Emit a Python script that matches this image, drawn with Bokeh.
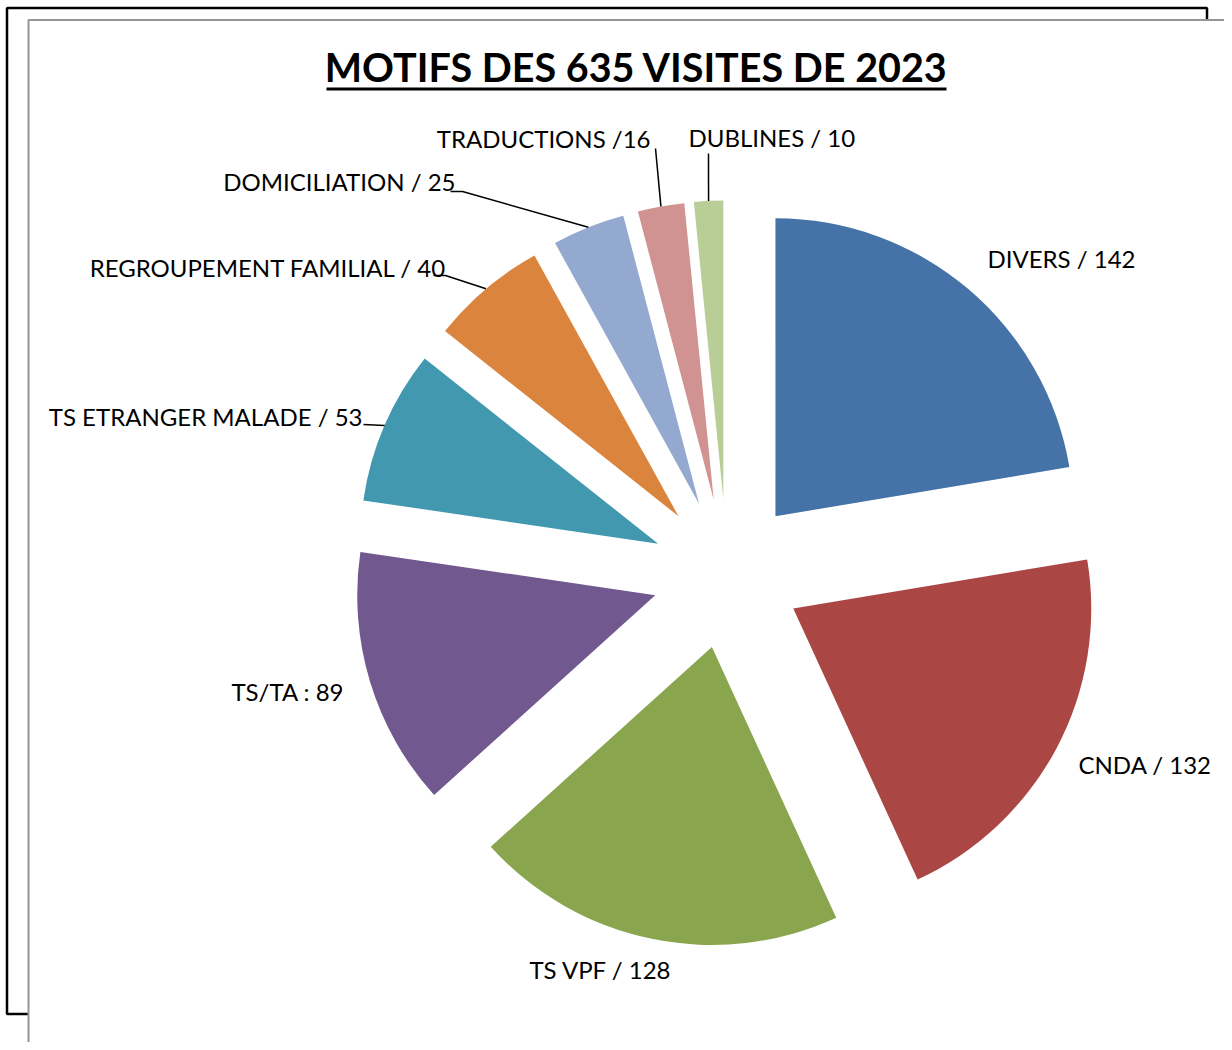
import numpy as np
from bokeh.plotting import figure
from bokeh.models import ColumnDataSource, Range1d
from bokeh.core.properties import value
from bokeh.embed import file_html
from bokeh.resources import INLINE

# ---------------- data ----------------
title = "MOTIFS DES 635 VISITES DE 2023"
categories = ["DIVERS", "CNDA", "TS VPF", "TS/TA", "TS ETRANGER MALADE",
              "REGROUPEMENT FAMILIAL", "DOMICILIATION", "TRADUCTIONS", "DUBLINES"]
visits = [142, 132, 128, 89, 53, 40, 25, 16, 10]
separators = [" / ", " / ", " / ", " : ", " / ", " / ", " / ", " /", " / "]
colors = ["#4572A7", "#AA4643", "#89A54E", "#71588F", "#4198AF",
          "#DB843D", "#93A9CF", "#D19392", "#B9CD96"]

# ---------------- layout (pixels) ----------------
W, H = 1224, 1042
OX, OY = 0, 1042          # image -> data conversion: x = sx - OX, y = OY - sy


def px(sx, sy):
    return sx - OX, OY - sy


CX, CY = px(726.5, 573)
R = 298
EXPLODE = 75
FONT = "Lato"
LABEL_PX = 24
TITLE_PX = 39.5
BASE_FIX = 0.4            # baseline correction (fraction of font size)

# label anchors (image px): align, x, baseline
label_layout = [
    ("left", 987, 268),
    ("left", 1078, 774),
    ("left", 529, 979),
    ("left", 231, 701),
    ("right", 362, 426),
    ("right", 446, 277),
    ("right", 455, 191),
    ("right", 650, 148),
    ("left", 688, 147),
]
# leader line start points (image px) for the labels that have one
leader_layout = {
    4: [(363, 424)],
    5: [(433, 275), (445, 275)],
    6: [(450, 191), (462, 191)],
    7: [(655, 148)],
    8: [(708, 153)],
}

# ---------------- geometry from data ----------------
vals = np.array(visits, dtype=float)
total = vals.sum()
cum = np.concatenate([[0.0], np.cumsum(vals)])
a_start = np.pi / 2 - cum[:-1] / total * 2 * np.pi
a_end = np.pi / 2 - cum[1:] / total * 2 * np.pi
mid = (a_start + a_end) / 2
wx = CX + EXPLODE * np.cos(mid)
wy = CY + EXPLODE * np.sin(mid)

wedges = ColumnDataSource(dict(x=wx, y=wy, start=a_end, end=a_start,
                               color=colors, cat=categories, v=visits))

p = figure(width=W, height=H, x_range=Range1d(0, W), y_range=Range1d(0, H),
           output_backend="svg", toolbar_location=None, min_border=0,
           outline_line_color=None, background_fill_color="white",
           border_fill_color="white")
p.axis.visible = False
p.grid.visible = False

# frames
bx0, by0 = px(6.5, 1013.5)
bx1, by1 = px(1206.5, 7.5)
p.quad(left=[bx0], right=[bx1], bottom=[by0], top=[by1], fill_color=None,
       line_color="black", line_width=2.5)
gx0, gy0 = px(28, 1070)
gx1, gy1 = px(1250, 19.5)
p.quad(left=[gx0], right=[gx1], bottom=[gy0], top=[gy1], fill_color="white",
       line_color="#959595", line_width=2)

# pie
p.wedge(x="x", y="y", radius=R, start_angle="start", end_angle="end",
        fill_color="color", line_color=None, source=wedges)

# title
tx, ty = px(636, 82)
p.text(x=[tx], y=[ty + BASE_FIX * TITLE_PX], text=[title], text_font=value(FONT),
       text_font_style="bold", text_font_size=f"{TITLE_PX}px",
       text_align="center", text_baseline="alphabetic", text_color="black")
ux0, uy = px(326, 88.5)
ux1, _ = px(946, 88.5)
p.line(x=[ux0, ux1], y=[uy, uy], line_color="black", line_width=3)

# labels
for i, (cat, v, sep) in enumerate(zip(categories, visits, separators)):
    align, sx, sy = label_layout[i]
    lx, ly = px(sx, sy)
    p.text(x=[lx], y=[ly + BASE_FIX * LABEL_PX], text=[f"{cat}{sep}{v}"],
           text_font=value(FONT), text_font_size=f"{LABEL_PX}px",
           text_align=align, text_baseline="alphabetic", text_color="black")
    if i in leader_layout:
        pts = [px(a, b) for a, b in leader_layout[i]]
        ex = CX + (R + EXPLODE) * np.cos(mid[i])
        ey = CY + (R + EXPLODE) * np.sin(mid[i])
        xs = [q[0] for q in pts] + [ex]
        ys = [q[1] for q in pts] + [ey]
        p.line(x=xs, y=ys, line_color="black", line_width=1.5)

open("out.html", "w").write(file_html(p, INLINE))
